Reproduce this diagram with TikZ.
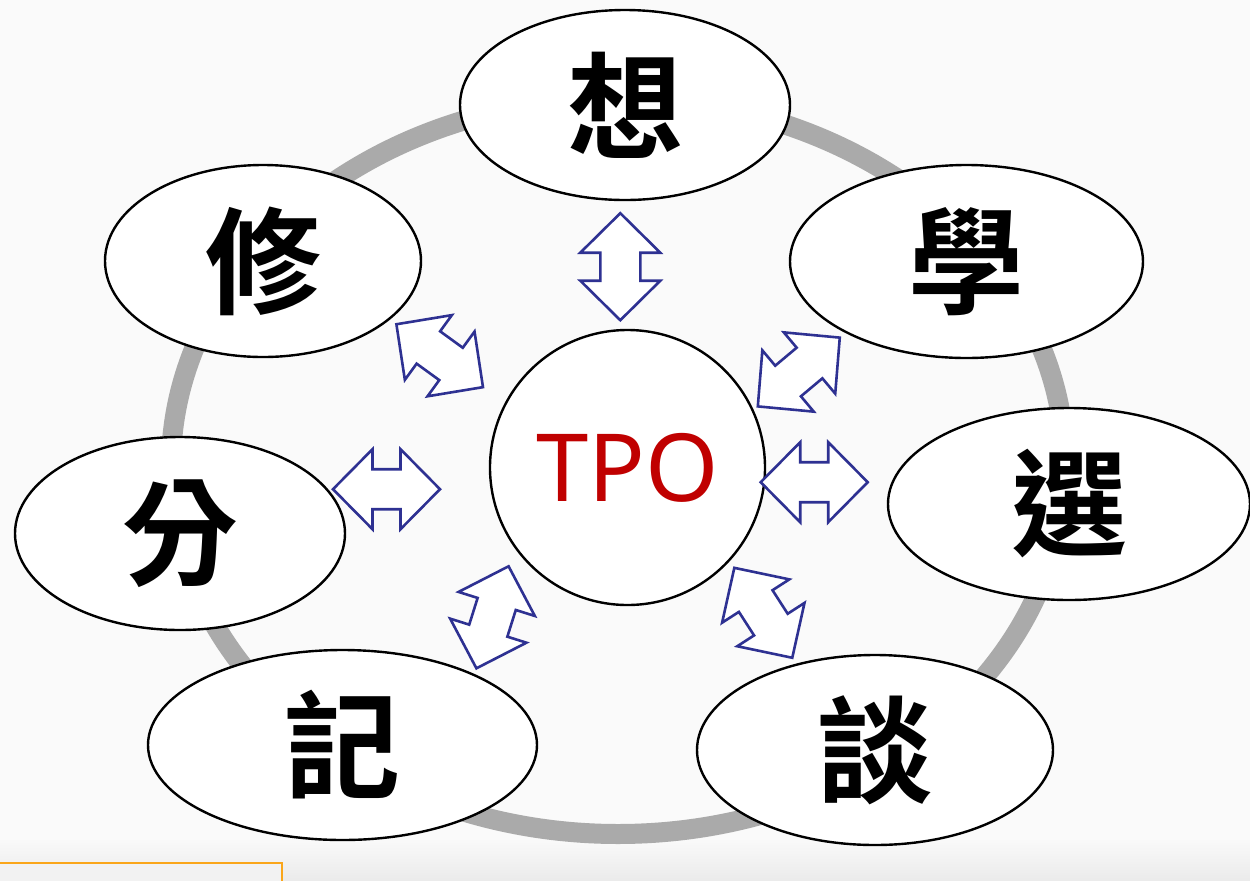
\documentclass[tikz,border=0pt]{standalone}
\usepackage{fontspec}
\usetikzlibrary{shapes.geometric}
\newfontfamily\cjk[BoldFont={Noto Sans CJK TC Bold}]{Noto Sans CJK TC}
\newfontfamily\latinsans{Noto Sans}
\definecolor{bgcol}{RGB}{250,250,250}
\definecolor{ringgray}{RGB}{170,170,170}
\definecolor{navy}{RGB}{46,49,146}
\definecolor{tpored}{RGB}{192,0,0}
\definecolor{boxorange}{RGB}{250,166,26}
\tikzset{
  oval/.style={ellipse, draw=black, line width=1.2pt, fill=white, inner sep=0pt,
    font=\cjk\bfseries\fontsize{58}{58}\selectfont},
  hub/.style={circle, draw=black, line width=1.2pt, fill=white, inner sep=0pt,
    minimum size=137.5pt, text=tpored, font=\latinsans\fontsize{47}{47}\selectfont},
  ring/.style={draw=ringgray, line width=10pt},
  barrow/.style={draw=navy, fill=white, line width=1.3pt, line join=miter},
  dblarrow/.pic={\draw[barrow] (-53.5,0) -- (-14,-40) -- (-14,-20) -- (14,-20) -- (14,-40)
     -- (53.5,0) -- (14,40) -- (14,20) -- (-14,20) -- (-14,40) -- cycle;}
}
\begin{document}
\begin{tikzpicture}[x=0.5pt,y=-0.5pt]
\useasboundingbox (0,0) rectangle (1250,880);
\fill[bgcol] (0,0) rectangle (1250,880);
\shade[top color=bgcol, bottom color=black!8] (0,838) rectangle (1250,880);
\draw[boxorange, line width=1pt, fill=bgcol!97!black] (-10,863) rectangle (282,900);
% ring
\draw[ring] (618,466) ellipse [x radius=447, y radius=368];
% outer nodes
\node[oval, minimum width=165pt, minimum height=95pt] (xiang) at (625,105) {想};
\node[oval, minimum width=176.5pt, minimum height=96.5pt] (xue) at (966.5,261.5) {學};
\node[oval, minimum width=158pt, minimum height=96pt] (xiu) at (263,261) {修};
\node[oval, minimum width=181pt, minimum height=96pt] (xuan) at (1069,504) {選};
\node[oval, minimum width=165pt, minimum height=96.5pt] (fen) at (180,533.5) {分};
\node[oval, minimum width=194.5pt, minimum height=95pt] (ji) at (342.5,745) {記};
\node[oval, minimum width=178pt, minimum height=95pt] (tan) at (875,750) {談};
% hub
\node[hub] (tpo) at (627.5,467.5) {TPO};
% double arrows
\pic[rotate=90] at (620.3,266.7) {dblarrow};
\pic at (386.5,489.2) {dblarrow};
\pic at (814.2,482.2) {dblarrow};
\pic[rotate=-36] at (439.7,355.7) {dblarrow};
\pic[rotate=40] at (798.8,372) {dblarrow};
\pic[rotate=72.5] at (492.5,617.3) {dblarrow};
\pic[rotate=-57.2] at (763.3,612.8) {dblarrow};
\end{tikzpicture}
\end{document}
